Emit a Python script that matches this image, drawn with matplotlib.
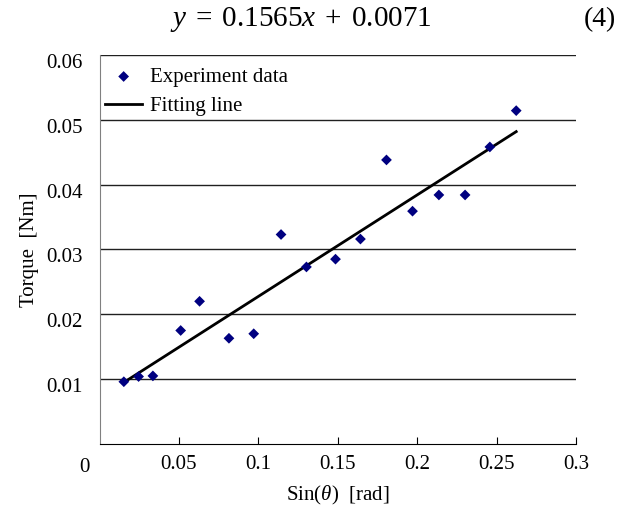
import matplotlib.pyplot as plt
from matplotlib.transforms import ScaledTranslation

plt.rcParams['font.family'] = 'Liberation Serif'
plt.rcParams['mathtext.fontset'] = 'custom'
plt.rcParams['mathtext.rm'] = 'Liberation Serif'
plt.rcParams['mathtext.it'] = 'Liberation Serif:italic'

# dados
sin_theta = [0.0153, 0.0246, 0.0336, 0.0511, 0.0630, 0.0815, 0.0971, 0.1143, 0.1303,
             0.1486, 0.1643, 0.1807, 0.1971, 0.2137, 0.2302, 0.2458, 0.2624]
torque = [0.0096, 0.0104, 0.0105, 0.0175, 0.0220, 0.0163, 0.0170, 0.0323, 0.0273,
          0.0285, 0.0316, 0.0438, 0.0359, 0.0384, 0.0384, 0.0458, 0.0514]

slope = 0.1565
intercept = 0.0071
fit_x = [sin_theta[0], sin_theta[-1]]
fit_y = [slope * v + intercept for v in fit_x]

x_ticks = [0.05, 0.1, 0.15, 0.2, 0.25, 0.3]
x_labels = ['0.05', '0.1', '0.15', '0.2', '0.25', '0.3']
y_ticks = [0.01, 0.02, 0.03, 0.04, 0.05, 0.06]
y_labels = ['0.01', '0.02', '0.03', '0.04', '0.05', '0.06']

fig = plt.figure(figsize=(6.26, 5.08), dpi=100)
ax = fig.add_axes([0.159, 0.126, 0.761, 0.766])

ax.scatter(sin_theta, torque, marker='D', s=30, color='#000080', edgecolor='none',
           label='Experiment data', zorder=3)
ax.plot(fit_x, fit_y, color='black', lw=2, label='Fitting line', zorder=2)

ax.set_xlim(0, 0.3)
ax.set_ylim(0, 0.06)
ax.set_xticks(x_ticks)
ax.set_xticklabels(x_labels)
ax.set_yticks(y_ticks)
ax.set_yticklabels(y_labels)
ax.tick_params(axis='x', direction='in', length=5, labelsize=15, pad=8)
ax.tick_params(axis='y', length=0, labelsize=15, pad=12)

# rótulos do eixo y ficam um pouco abaixo das linhas
desloc = ScaledTranslation(0, -6 / 100, fig.dpi_scale_trans)
for lab in ax.get_yticklabels():
    lab.set_transform(lab.get_transform() + desloc)

for t in y_ticks:
    ax.axhline(t, color='#202020', lw=1, zorder=1)

ax.spines['top'].set_visible(False)
ax.spines['right'].set_visible(False)
ax.spines['left'].set_color('#808080')
ax.spines['bottom'].set_color('black')

ax.text(-0.0098, -0.0036, '0', fontsize=15, ha='center', va='center')

ax.set_xlabel(r'Sin($\theta$)  [rad]', fontsize=15, labelpad=7)
ax.set_ylabel('Torque  [Nm]', fontsize=15, labelpad=5)

ax.legend(loc='upper left', bbox_to_anchor=(-0.015, 1.0), frameon=False, fontsize=15,
          handlelength=1.8, handletextpad=0.35, labelspacing=0.45, borderaxespad=0.2,
          borderpad=0.4, scatterpoints=1)

fig.text(0.481, 0.962, r'$y\;=\;0.1565x\;+\;0.0071$', fontsize=21, ha='center', va='center')
fig.text(0.958, 0.962, '(4)', fontsize=20, ha='center', va='center')

plt.savefig('out.png')
